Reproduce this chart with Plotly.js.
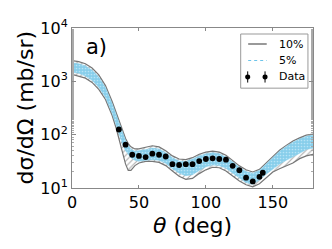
<!DOCTYPE html>
<html><head><meta charset="utf-8">
<script src="https://cdn.plot.ly/plotly-3.0.1.min.js"></script>
<style>html,body{margin:0;padding:0;background:#fff}#plot{width:332px;height:249px}</style>
</head><body><div id="plot"></div>
<script>
// Band abscissae (deg)
var theta = [0,5,10,15,20,25,30,33,35,38,40,42,44,47,50,55,60,65,70,75,80,85,90,95,100,105,110,115,120,125,130,135,140,145,150,155,160,165,170,175,180];
// 10% band edges (mb/sr)
var upper10 = [2455,2344,2138,1778,1318,832,417,263,191,112,85,68,59,54,54,58,62,59,50,40,35,34,37,43,47,49,47,41,33,26,22,20,22.4,29.5,40,51,63,76,87,98,102];
var lower10 = [1349,1259,1148,955,708,457,229,132,87,45,28,21.4,21.4,26.3,29.5,31.6,31.6,30.2,26.3,20.9,16.6,14.5,15.1,18.6,21.9,24.5,24,20.9,17,13.5,11.5,10.5,12,15.8,20,22.9,26.3,29.5,35.5,40,42.7];
// 5% band edges (mb/sr)
var upper5 = [2239,2138,1950,1622,1202,759,380,240,174,102,78,62,54,49,50,52.5,56,54,46,37,32,31.6,35,40,44,46,44,38,31,24.5,20.4,19,21.4,28.2,38,49,60,72,83,93,98];
var lower5 = [1479,1413,1259,1047,776,501,251,151,100,63,50,42,37,33,31.6,33,34,33,29,23,19,17,17.8,21.4,25,27,26.3,23.4,19,15.1,12.6,11.7,14.1,18.2,23,28.2,33,38,44.7,52.5,56];
// Data points
var dataTheta = [35,40,45,50,55,60,65,70,75,80,85,90,95,100,105,110,115,120,125,130,135,140,142.5];
var dataXS = [125,65,42,40,38,44,42,39,28,27,28,28,32,35,36,35,34,26,21.5,15.6,13.3,16.2,19.3];
// Tick labels and legend labels
var xTicks = [0,50,100,150];
var yTicks = [10,100,1000,10000];
var yTickText = ['10<sup>1</sup>','10<sup>2</sup>','10<sup>3</sup>','10<sup>4</sup>'];
var legendLabels = ['10%','5%','Data'];
var yTitle = 'dσ/dΩ (mb/sr)';

var FONT = 'DejaVu Sans, sans-serif';
var grayLine = '#777777';
var blue = '#87ceeb';

var traces = [
  {x: theta, y: lower10, type:'scatter', mode:'lines', line:{color:grayLine, width:1.2}, hoverinfo:'skip'},
  {x: theta, y: upper10, type:'scatter', mode:'lines', line:{color:grayLine, width:1.2}, fill:'tonexty',
   fillcolor:'rgba(255,255,255,0)', fillpattern:{shape:'/', fgcolor:'#a8a8a8', bgcolor:'#ffffff', size:4, solidity:0.25},
   hoverinfo:'skip'},
  {x: theta, y: lower5, type:'scatter', mode:'lines', line:{color:blue, width:0.5}, hoverinfo:'skip'},
  {x: theta, y: upper5, type:'scatter', mode:'lines', line:{color:blue, width:0.5}, fill:'tonexty',
   fillcolor:blue, fillpattern:{shape:'.', fgcolor:'#b8e4f6', bgcolor:blue, size:3, solidity:0.25},
   hoverinfo:'skip'},
  {x: dataTheta, y: dataXS, type:'scatter', mode:'markers',
   marker:{color:'#000', size:5.8},
   error_y:{type:'percent', value:8, color:'#000', thickness:1, width:0}}
];

// Custom legend (paper coordinates)
var lg = {x0:0.70, x1:0.979, y0:0.624, y1:0.9625, sx0:0.731, sx1:0.808, tx:0.852, rows:[0.9,0.797,0.694]};
var shapes = [
  {type:'rect', xref:'paper', yref:'paper', x0:lg.x0, x1:lg.x1, y0:lg.y0, y1:lg.y1, line:{color:'#999', width:1}, fillcolor:'#fff'},
  {type:'line', xref:'paper', yref:'paper', x0:lg.sx0, x1:lg.sx1, y0:lg.rows[0], y1:lg.rows[0], line:{color:grayLine, width:1.5}},
  {type:'line', xref:'paper', yref:'paper', x0:lg.sx0, x1:lg.sx1, y0:lg.rows[1], y1:lg.rows[1], line:{color:'#6cc4ea', width:1.2, dash:'dot'}},
  {type:'line', xref:'paper', yref:'paper', x0:0.729, x1:0.729, y0:lg.rows[2]-0.035, y1:lg.rows[2]+0.035, line:{color:'#000', width:1}},
  {type:'line', xref:'paper', yref:'paper', x0:0.801, x1:0.801, y0:lg.rows[2]-0.035, y1:lg.rows[2]+0.035, line:{color:'#000', width:1}},
  {type:'circle', xref:'paper', yref:'paper', x0:0.729-0.0105, x1:0.729+0.0105, y0:lg.rows[2]-0.0156, y1:lg.rows[2]+0.0156, line:{width:0}, fillcolor:'#000'},
  {type:'circle', xref:'paper', yref:'paper', x0:0.801-0.0105, x1:0.801+0.0105, y0:lg.rows[2]-0.0156, y1:lg.rows[2]+0.0156, line:{width:0}, fillcolor:'#000'}
];
var annotations = [
  {xref:'paper', yref:'paper', x:0.05, y:0.97, xanchor:'left', yanchor:'top', showarrow:false,
   text:'a)', font:{size:21, family:FONT, color:'#000'}},
  {xref:'paper', yref:'paper', x:-0.197, y:0.5, xanchor:'center', yanchor:'middle', showarrow:false, textangle:-90,
   text:yTitle, font:{size:22, family:FONT, color:'#000'}}
];
for (var i = 0; i < legendLabels.length; i++) {
  annotations.push({xref:'paper', yref:'paper', x:lg.tx, y:lg.rows[i], xanchor:'left', yanchor:'middle', showarrow:false,
                    text:legendLabels[i], font:{size:11, family:FONT, color:'#000'}});
}

var layout = {
  width:332, height:249,
  margin:{l:72, r:19, t:28, b:61},
  paper_bgcolor:'#fff', plot_bgcolor:'#fff',
  font:{family:FONT, color:'#000', size:16},
  showlegend:false,
  xaxis:{range:[0,180], tickvals:xTicks, ticktext:xTicks.map(String),
         showline:true, linecolor:'#888', linewidth:1, mirror:'ticks', ticks:'inside', ticklen:3, tickcolor:'#888',
         showgrid:false, zeroline:false, tickfont:{size:16, family:FONT},
         title:{text:'<i>θ</i> (deg)', font:{size:22, family:FONT}, standoff:6}},
  yaxis:{type:'log', range:[1,4], tickvals:yTicks, ticktext:yTickText,
         showline:true, linecolor:'#888', linewidth:1, mirror:'ticks', ticks:'inside', ticklen:4, tickcolor:'#888',
         minor:{ticks:'inside', ticklen:2, tickcolor:'#aaa', showgrid:false},
         showgrid:false, zeroline:false, tickfont:{size:16, family:FONT}},
  shapes: shapes,
  annotations: annotations
};
Plotly.newPlot('plot', traces, layout, {staticPlot:true, displayModeBar:false});
</script></body></html>
